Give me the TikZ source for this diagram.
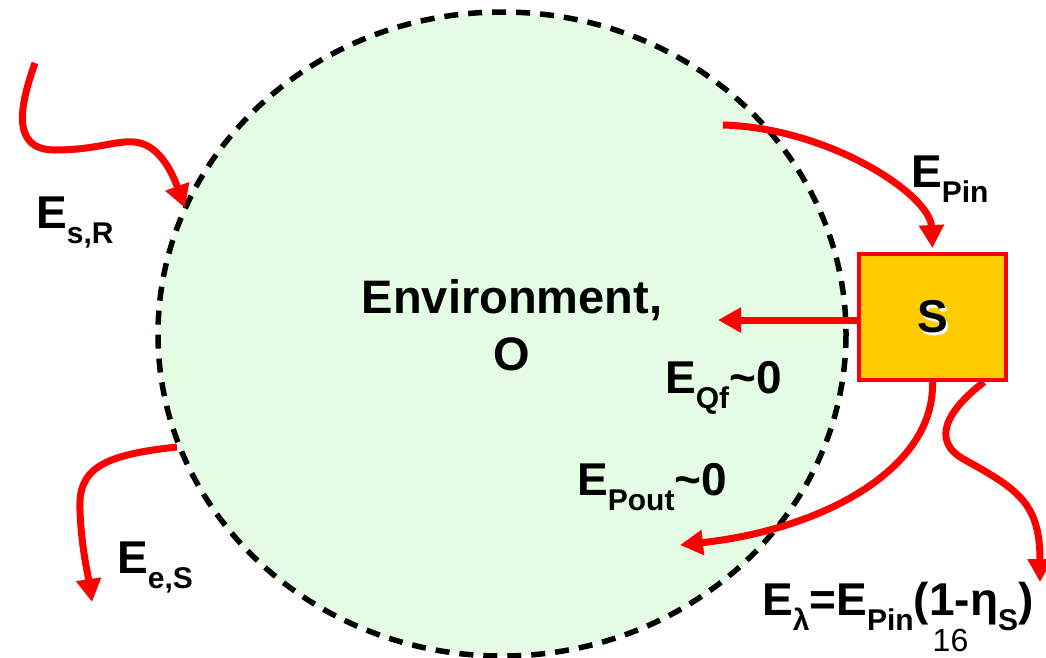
\documentclass[tikz,border=0pt]{standalone}
\usepackage{fontspec}
\setmainfont{Liberation Sans}
\usetikzlibrary{arrows.meta}
\definecolor{envgreen}{RGB}{228,252,228}
\definecolor{sgold}{RGB}{255,204,0}
\definecolor{flowred}{RGB}{255,0,0}
\newcommand{\lsb}[1]{\raisebox{-15pt}{\fontsize{30}{32}\selectfont #1}}
\tikzset{
  flow/.style={draw=flowred, line width=7pt, -{Triangle[length=23pt,width=24pt]}},
  lbl/.style={font=\bfseries\fontsize{46}{50}\selectfont, inner sep=0pt, anchor=base west},
  envtext/.style={font=\bfseries\fontsize{47}{50}\selectfont, inner sep=0pt, anchor=base},
  sbox/.style={draw=flowred, line width=4pt, fill=sgold, minimum width=147pt, minimum height=126pt, inner sep=0pt},
}
\begin{document}
\begin{tikzpicture}[x=1pt,y=-1pt]
\useasboundingbox (0,0) rectangle (1046,657);
% environment
\draw[fill=envgreen, line width=5.5pt, dash pattern=on 14pt off 10pt] (502,334) ellipse [x radius=344, y radius=322];
\node[envtext] (env1) at (512,313) {Environment,};
\node[envtext] (env2) at (512,370) {O};
% system box
\node[sbox] (S) at (932.5,317) {};
\node[font=\bfseries\fontsize{46}{48}\selectfont, text=white, inner sep=0pt] (Sshadow) at (935,319.5) {S};
\node[font=\bfseries\fontsize{46}{48}\selectfont, inner sep=0pt] (Stext) at (933,317) {S};
% free ends
\coordinate (srStart) at (35,63);
\coordinate (srEnd) at (185,208);
\coordinate (pinStart) at (723,125);
\coordinate (qfEnd) at (718,320);
\coordinate (poutEnd) at (680,545);
\coordinate (lamEnd) at (1040,582);
\coordinate (esStart) at (177,447);
\coordinate (esEnd) at (92,602);
% flows
\draw[flow] (srStart) .. controls (22,100) and (8,150) .. (55,150) .. controls (100,150) and (120,138) .. (140,143) .. controls (160,148) and (172,172) .. (srEnd);
\draw[flow] (pinStart) .. controls (830,128) and (930,195) .. ([yshift=4pt]S.north);
\draw[flow] ([yshift=-3pt]S.west) -- (qfEnd);
\draw[flow] (S.south) .. controls (935,470) and (820,530) .. (poutEnd);
\draw[flow] ([xshift=-24pt]S.south east) .. controls (950,408) and (928,440) .. (965,460) .. controls (1020,490) and (1040,505) .. (lamEnd);
\draw[flow] (esStart) .. controls (100,455) and (78,470) .. (80,510) .. controls (81,545) and (88,575) .. (esEnd);
% labels
\node[lbl] (lSR) at (36,228) {E\lsb{s,R}};
\node[lbl] (lPin) at (911,187) {E\lsb{Pin}};
\node[lbl] (lQf) at (665,393) {E\lsb{Qf}\textasciitilde 0};
\node[lbl] (lPout) at (577,495) {E\lsb{Pout}\textasciitilde 0};
\node[lbl] (lLam) at (762,615) {E\lsb{λ}=E\lsb{Pin}(1-η\lsb{S})};
\node[lbl] (lES) at (117,573) {E\lsb{e,S}};
\node[font=\fontsize{32}{36}\selectfont, inner sep=0pt, anchor=base] (pg) at (950.5,651) {16};
\end{tikzpicture}
\end{document}
